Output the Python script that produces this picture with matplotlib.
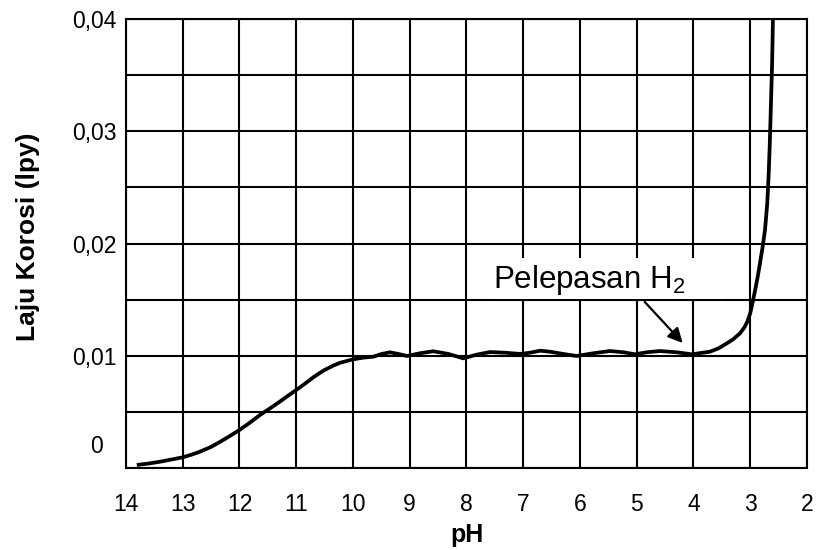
import matplotlib
matplotlib.use("Agg")
import matplotlib.pyplot as plt
from matplotlib.patches import Rectangle
from matplotlib.ticker import MultipleLocator

plt.rcParams['font.family'] = ['Liberation Sans', 'DejaVu Sans']
plt.rcParams['mathtext.fontset'] = 'custom'
plt.rcParams['mathtext.rm'] = 'Liberation Sans'
plt.rcParams['mathtext.it'] = 'Liberation Sans:italic'
plt.rcParams['mathtext.bf'] = 'Liberation Sans:bold'

# Data
ph = [13.81, 13.60, 13.40, 13.00, 12.85, 12.70, 12.50, 12.34, 12.17, 12.00,
      11.82, 11.64, 11.46, 11.29, 11.15, 11.00, 10.85, 10.70, 10.52, 10.35,
      10.23, 10.00, 9.82, 9.64, 9.495, 9.35, 9.20, 9.05, 8.82, 8.585,
      8.32, 8.056, 7.82, 7.586, 7.32, 7.057, 6.88, 6.70, 6.53, 6.295,
      6.06, 5.765, 5.472, 5.237, 5.03, 4.825, 4.59, 4.297, 4.03, 3.71,
      3.56, 3.415, 3.30, 3.18, 3.10, 3.05, 3.00, 2.96, 2.916, 2.87,
      2.83, 2.785, 2.74, 2.70, 2.675, 2.655, 2.635, 2.615, 2.60]
rate = [0.00027, 0.00040, 0.00056, 0.00095, 0.00118, 0.00145, 0.00188, 0.00234, 0.00285, 0.00339,
        0.00403, 0.00472, 0.00532, 0.00591, 0.00642, 0.00695, 0.00750, 0.00808, 0.00868, 0.00912,
        0.00937, 0.00968, 0.00983, 0.00992, 0.01016, 0.01030, 0.01016, 0.00998, 0.01022, 0.01040,
        0.01016, 0.00977, 0.01010, 0.01033, 0.01027, 0.01016, 0.01027, 0.01045, 0.01036, 0.01016,
        0.00998, 0.01022, 0.01042, 0.01031, 0.01013, 0.01031, 0.01042, 0.01031, 0.01013, 0.01036,
        0.01066, 0.01110, 0.01147, 0.01200, 0.01255, 0.01305, 0.01380, 0.01470, 0.01580, 0.01700,
        0.01820, 0.01960, 0.02120, 0.02360, 0.02620, 0.02900, 0.03250, 0.03600, 0.04000]

x_ticks = [14, 13, 12, 11, 10, 9, 8, 7, 6, 5, 4, 3, 2]
y_ticks = [0.01, 0.02, 0.03, 0.04]
y_tick_labels = ['0,01', '0,02', '0,03', '0,04']
zero_label = '0'
annot_text = 'Pelepasan H$_2$'
annot_xy = (4.19, 0.01114)
annot_from = (4.86, 0.0148)

fig = plt.figure(figsize=(8.17, 5.5), dpi=100)
ax = fig.add_axes([126/817, 1-468/550, (807-126)/817, (468-19)/550])

ax.set_xlim(14, 2)
ax.set_ylim(0, 0.04)

ax.set_xticks(x_ticks)
ax.set_xticklabels([str(v) for v in x_ticks])
ax.set_yticks(y_ticks)
ax.set_yticklabels(y_tick_labels)
ax.yaxis.set_minor_locator(MultipleLocator(0.005))
ax.tick_params(axis='both', which='both', length=0, labelsize=16.5, colors='black')
ax.tick_params(axis='x', pad=18)
ax.tick_params(axis='y', pad=6.5)

ax.set_axisbelow(True)
ax.grid(True, which='both', color='black', linewidth=1.5)
for s in ax.spines.values():
    s.set_linewidth(1.5)
    s.set_color('black')

ax.plot(ph, rate, color='black', linewidth=2.7, solid_joinstyle='round',
        solid_capstyle='butt', zorder=3)

# zero label placed off-grid as in the reference
ax.text(-0.044, 0.047, zero_label, transform=ax.transAxes, ha='center', va='center', fontsize=16.5)

# white box behind annotation text
ax.add_patch(Rectangle((7.55, 0.01510), 3.48 - 7.55, 0.01872 - 0.01510,
                       facecolor='white', edgecolor='none', zorder=1))
ax.text(7.533, 0.01604, annot_text, ha='left', va='baseline', fontsize=22.5, zorder=4)
ax.annotate('', xy=annot_xy, xytext=annot_from,
            arrowprops=dict(arrowstyle='-|>', color='black', lw=1.6,
                            mutation_scale=22, shrinkA=0, shrinkB=0), zorder=4)

fig.text(28.5/817, 1-237/550, 'Laju Korosi (lpy)', rotation=90, ha='center', va='center',
         fontsize=19, fontweight='bold')
fig.text(467/817, 1-535/550, 'pH', ha='center', va='center', fontsize=18, fontweight='bold')

fig.savefig('out.png', dpi=100, facecolor='white')
